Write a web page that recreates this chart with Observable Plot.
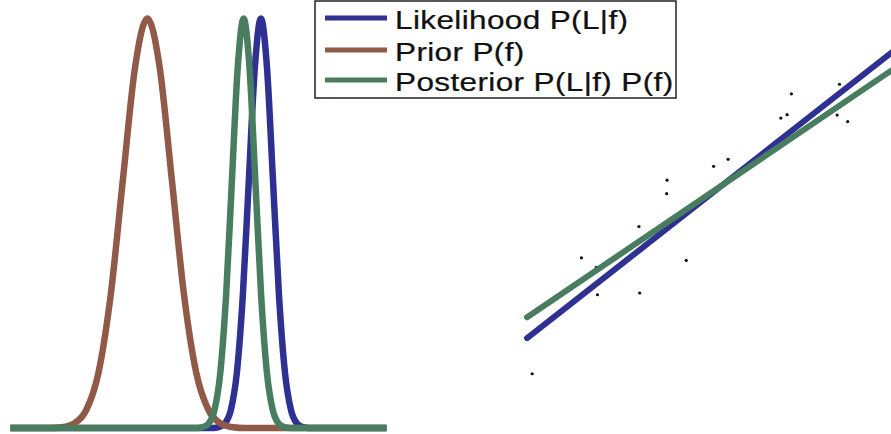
<!DOCTYPE html>
<html>
<head>
<meta charset="utf-8">
<script src="https://cdn.jsdelivr.net/npm/d3@7"></script>
<script src="https://cdn.jsdelivr.net/npm/@observablehq/plot@0.6"></script>
<style>
  html, body { margin: 0; padding: 0; background: #fff; }
  #wrap { position: relative; width: 891px; height: 434px; overflow: hidden; }
  #wrap > svg, #wrap > figure { position: absolute; left: 0; top: 0; margin: 0; }
</style>
</head>
<body>
<div id="wrap"></div>
<script>
// ---- Left panel: curves (x in arbitrary f units, y normalized density) ----
const priorX = [0, 1.04, 1.365, 1.69, 2.015, 2.34, 2.665, 2.99, 3.315, 3.64, 3.965, 4.29, 4.615, 4.94, 5.265, 5.59, 5.915, 6.24, 10];
const priorY = [0, 0, 0.002, 0.011, 0.044, 0.135, 0.325, 0.607, 0.882, 1, 0.882, 0.607, 0.325, 0.135, 0.044, 0.011, 0.002, 0, 0];

const likeX = [0, 5.38, 5.54, 5.70, 5.86, 6.02, 6.18, 6.34, 6.50, 6.66, 6.82, 6.98, 7.14, 7.30, 7.46, 7.62, 7.78, 7.94, 10];
const likeY = [0, 0, 0.002, 0.011, 0.044, 0.135, 0.325, 0.607, 0.882, 1, 0.882, 0.607, 0.325, 0.135, 0.044, 0.011, 0.002, 0, 0];

const postX = [0, 4.96, 5.115, 5.27, 5.425, 5.58, 5.735, 5.89, 6.045, 6.20, 6.355, 6.51, 6.665, 6.82, 6.975, 7.13, 7.285, 7.44, 10];
const postY = [0, 0, 0.002, 0.011, 0.044, 0.135, 0.325, 0.607, 0.882, 1, 0.882, 0.607, 0.325, 0.135, 0.044, 0.011, 0.002, 0, 0];

// ---- Right panel: scatter points and fitted lines ----
const ptX = [0.81, 2.07, 2.45, 2.48, 3.54, 3.56, 4.26, 4.25, 4.75, 5.45, 5.82, 7.17, 7.33, 7.44, 8.67, 8.61, 8.88];
const ptY = [1.40, 4.07, 3.85, 3.22, 4.79, 3.26, 5.86, 5.55, 4.01, 6.18, 6.34, 7.29, 7.37, 7.85, 8.07, 7.36, 7.21];

const likeLineX = [0.68, 10];
const likeLineY = [2.22, 8.80];
const postLineX = [0.68, 10];
const postLineY = [2.70, 8.39];

// ---- Legend ----
const legendLabels = ["Likelihood P(L|f)", "Prior P(f)", "Posterior P(L|f) P(f)"];
const colors = {like: "#2e3092", prior: "#915a48", post: "#487d5f"};
const legendColors = [colors.like, colors.prior, colors.post];

const toRows = (xs, ys) => xs.map((x, i) => ({x, y: ys[i]}));

const W = 891, H = 434;
const wrap = document.getElementById("wrap");

const curveOpts = {x: "x", y: "y", strokeWidth: 6.5, curve: "monotone-x", strokeLinecap: "butt", strokeLinejoin: "round"};
const left = Plot.plot({
  width: W, height: H,
  marginLeft: 10, marginRight: W - 386, marginTop: 18, marginBottom: 6.5,
  x: {domain: [0, 10], axis: null},
  y: {domain: [0, 1], axis: null},
  marks: [
    Plot.line(toRows(likeX, likeY), {...curveOpts, stroke: colors.like}),
    Plot.line(toRows(priorX, priorY), {...curveOpts, stroke: colors.prior}),
    Plot.line(toRows(postX, postY), {...curveOpts, stroke: colors.post})
  ]
});
left.style.background = "transparent";
wrap.appendChild(left);

const right = Plot.plot({
  width: W, height: H,
  marginLeft: 500, marginRight: 0, marginTop: 0, marginBottom: 0,
  x: {domain: [0, 10], axis: null},
  y: {domain: [0, 10], axis: null},
  marks: [
    Plot.dot(toRows(ptX, ptY), {x: "x", y: "y", r: 1.6, fill: "#111", stroke: "none"}),
    Plot.line(toRows(likeLineX, likeLineY), {x: "x", y: "y", stroke: colors.like, strokeWidth: 6, strokeLinecap: "round", clip: true}),
    Plot.line(toRows(postLineX, postLineY), {x: "x", y: "y", stroke: colors.post, strokeWidth: 6, strokeLinecap: "round", clip: true})
  ]
});
right.style.background = "transparent";
wrap.appendChild(right);

// Legend box
const svg = d3.create("svg").attr("width", W).attr("height", H)
  .style("position", "absolute").style("left", 0).style("top", 0);
svg.append("rect").attr("x", 315).attr("y", 1).attr("width", 361).attr("height", 97)
  .attr("fill", "#fff").attr("stroke", "#222").attr("stroke-width", 1.5);
const lineYs = [18, 50, 80];
const textYs = [28.5, 61, 91];
legendLabels.forEach((lab, i) => {
  svg.append("line").attr("x1", 325).attr("x2", 387).attr("y1", lineYs[i]).attr("y2", lineYs[i])
    .attr("stroke", legendColors[i]).attr("stroke-width", 5);
  svg.append("text").attr("transform", `translate(395,${textYs[i]}) scale(1.26,1)`).text(lab)
    .attr("font-family", "'Liberation Sans', Arial, sans-serif").attr("font-size", 25)
    .attr("letter-spacing", "0.3px").attr("fill", "#111")
    .attr("stroke", "#111").attr("stroke-width", 0.25);
});
wrap.appendChild(svg.node());
</script>
</body>
</html>
